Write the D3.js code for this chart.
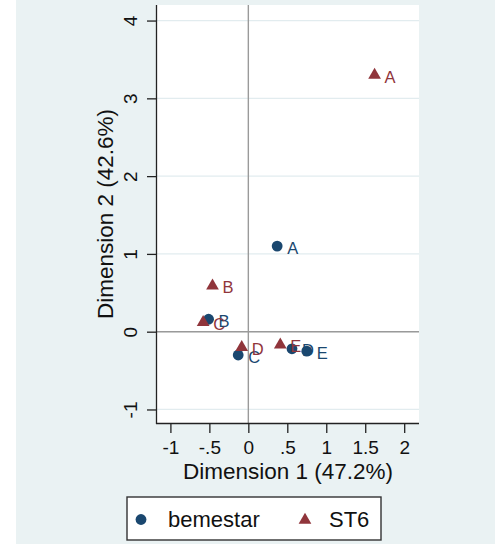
<!DOCTYPE html>
<html>
<head>
<meta charset="utf-8">
<script src="https://cdn.jsdelivr.net/npm/d3@7"></script>
<style>
  html, body { margin: 0; padding: 0; background: #ffffff; }
  svg { display: block; }
  text { font-family: "Liberation Sans", Arial, Helvetica, sans-serif; }
</style>
</head>
<body>
<svg id="chart" width="495" height="544"></svg>
<script>
// MCA coordinate plot: category coordinates for two variables
const categories = ["A", "B", "C", "D", "E"];
const bemestarX = [0.37, -0.51, -0.13, 0.56, 0.75];
const bemestarY = [1.10, 0.16, -0.30, -0.22, -0.25];
const st6X = [1.62, -0.46, -0.58, -0.085, 0.41];
const st6Y = [3.30, 0.59, 0.12, -0.20, -0.17];

const xTicks = [-1, -0.5, 0, 0.5, 1, 1.5, 2];
const xTickLabels = ["-1", "-.5", "0", ".5", "1", "1.5", "2"];
const yTicks = [-1, 0, 1, 2, 3, 4];
const yTickLabels = ["-1", "0", "1", "2", "3", "4"];

const seriesNames = ["bemestar", "ST6"];
const xTitle = "Dimension 1 (47.2%)";
const yTitle = "Dimension 2 (42.6%)";

const navy = "#1a476f";
const maroon = "#90353b";

const svg = d3.select("#chart");
const W = 495, H = 544;

// page and graph background
svg.append("rect").attr("width", W).attr("height", H).attr("fill", "#ffffff");
svg.append("rect").attr("x", 16).attr("y", 0).attr("width", W - 16).attr("height", H)
  .attr("fill", "#eaf2f3");

// plot region
const plot = { left: 157, right: 419, top: 5, bottom: 423 };
const x = d3.scaleLinear().domain([-1.172, 2.19]).range([plot.left, plot.right]);
const y = d3.scaleLinear().domain([-1.174, 4.2]).range([plot.bottom, plot.top]);

svg.append("rect")
  .attr("x", plot.left).attr("y", plot.top)
  .attr("width", plot.right - plot.left).attr("height", plot.bottom - plot.top)
  .attr("fill", "#ffffff");

// horizontal grid lines
svg.append("g").selectAll("line").data(yTicks).join("line")
  .attr("x1", plot.left).attr("x2", plot.right)
  .attr("y1", d => y(d)).attr("y2", d => y(d))
  .attr("stroke", "#e2ecef").attr("stroke-width", 1.2);

// reference lines through the origin
svg.append("line")
  .attr("x1", x(0)).attr("x2", x(0)).attr("y1", plot.top).attr("y2", plot.bottom)
  .attr("stroke", "#9a9a9a").attr("stroke-width", 1.4);
svg.append("line")
  .attr("x1", plot.left).attr("x2", plot.right).attr("y1", y(0)).attr("y2", y(0))
  .attr("stroke", "#9a9a9a").attr("stroke-width", 1.4);

// axes
const axisColor = "#222";
const xAxis = d3.axisBottom(x).tickValues(xTicks)
  .tickFormat((d, i) => xTickLabels[i]).tickSize(10).tickSizeOuter(0);
const gx = svg.append("g").attr("transform", `translate(0,${plot.bottom})`).call(xAxis);
gx.select(".domain").attr("stroke", axisColor).attr("stroke-width", 1.3)
  .attr("d", `M${plot.left - 1},0.5H${plot.right}`);
gx.selectAll(".tick line").attr("stroke", axisColor).attr("stroke-width", 1.3);
gx.selectAll(".tick text")
  .attr("y", 31).attr("dy", 0)
  .attr("font-size", 19).attr("fill", "#111")
  .style("font-family", '"Liberation Sans", Arial, sans-serif');

const yAxis = d3.axisLeft(y).tickValues(yTicks)
  .tickFormat((d, i) => yTickLabels[i]).tickSize(10).tickSizeOuter(0);
const gy = svg.append("g").attr("transform", `translate(${plot.left},0)`).call(yAxis);
gy.select(".domain").attr("stroke", axisColor).attr("stroke-width", 1.3)
  .attr("d", `M-0.5,${plot.top}V${plot.bottom + 1}`);
gy.selectAll(".tick line").attr("stroke", axisColor).attr("stroke-width", 1.3);
gy.selectAll(".tick text")
  .attr("x", null).attr("dy", null)
  .attr("transform", "translate(-20,0) rotate(-90)")
  .attr("text-anchor", "middle")
  .attr("font-size", 19).attr("fill", "#111")
  .style("font-family", '"Liberation Sans", Arial, sans-serif');
gx.attr("font-family", null); gy.attr("font-family", null);

// axis titles
svg.append("text")
  .attr("x", (plot.left + plot.right) / 2).attr("y", 479)
  .attr("text-anchor", "middle").attr("font-size", 22.5).attr("fill", "#111")
  .text(xTitle);
svg.append("text")
  .attr("transform", `translate(113,${(plot.top + plot.bottom) / 2}) rotate(-90)`)
  .attr("text-anchor", "middle").attr("font-size", 22.5).attr("fill", "#111")
  .text(yTitle);

// markers with category labels
const circleSym = d3.symbol().type(d3.symbolCircle).size(Math.PI * 5.4 * 5.4);
const triSym = d3.symbol().type(d3.symbolTriangle).size(70);

function drawSeries(xs, ys, sym, color) {
  const pts = categories.map((c, i) => ({ c, x: xs[i], y: ys[i] }));
  const g = svg.append("g").selectAll("g").data(pts).join("g")
    .attr("transform", d => `translate(${x(d.x)},${y(d.y)})`);
  g.append("path").attr("d", sym()).attr("fill", color);
  g.append("text")
    .attr("x", 10).attr("y", 7.5)
    .attr("font-size", 16.5).attr("fill", color)
    .text(d => d.c);
}
drawSeries(bemestarX, bemestarY, circleSym, navy);
drawSeries(st6X, st6Y, triSym, maroon);

// legend
const lg = svg.append("g");
lg.append("rect").attr("x", 127).attr("y", 497).attr("width", 254).attr("height", 43)
  .attr("fill", "#ffffff").attr("stroke", "#333").attr("stroke-width", 1.4);
lg.append("path").attr("d", circleSym()).attr("fill", navy)
  .attr("transform", "translate(141,519.5)");
lg.append("text").attr("x", 168).attr("y", 527).attr("font-size", 22).attr("fill", "#111")
  .text(seriesNames[0]);
lg.append("path").attr("d", triSym()).attr("fill", maroon)
  .attr("transform", "translate(305,520)");
lg.append("text").attr("x", 329).attr("y", 527).attr("font-size", 22).attr("fill", "#111")
  .text(seriesNames[1]);
</script>
</body>
</html>
